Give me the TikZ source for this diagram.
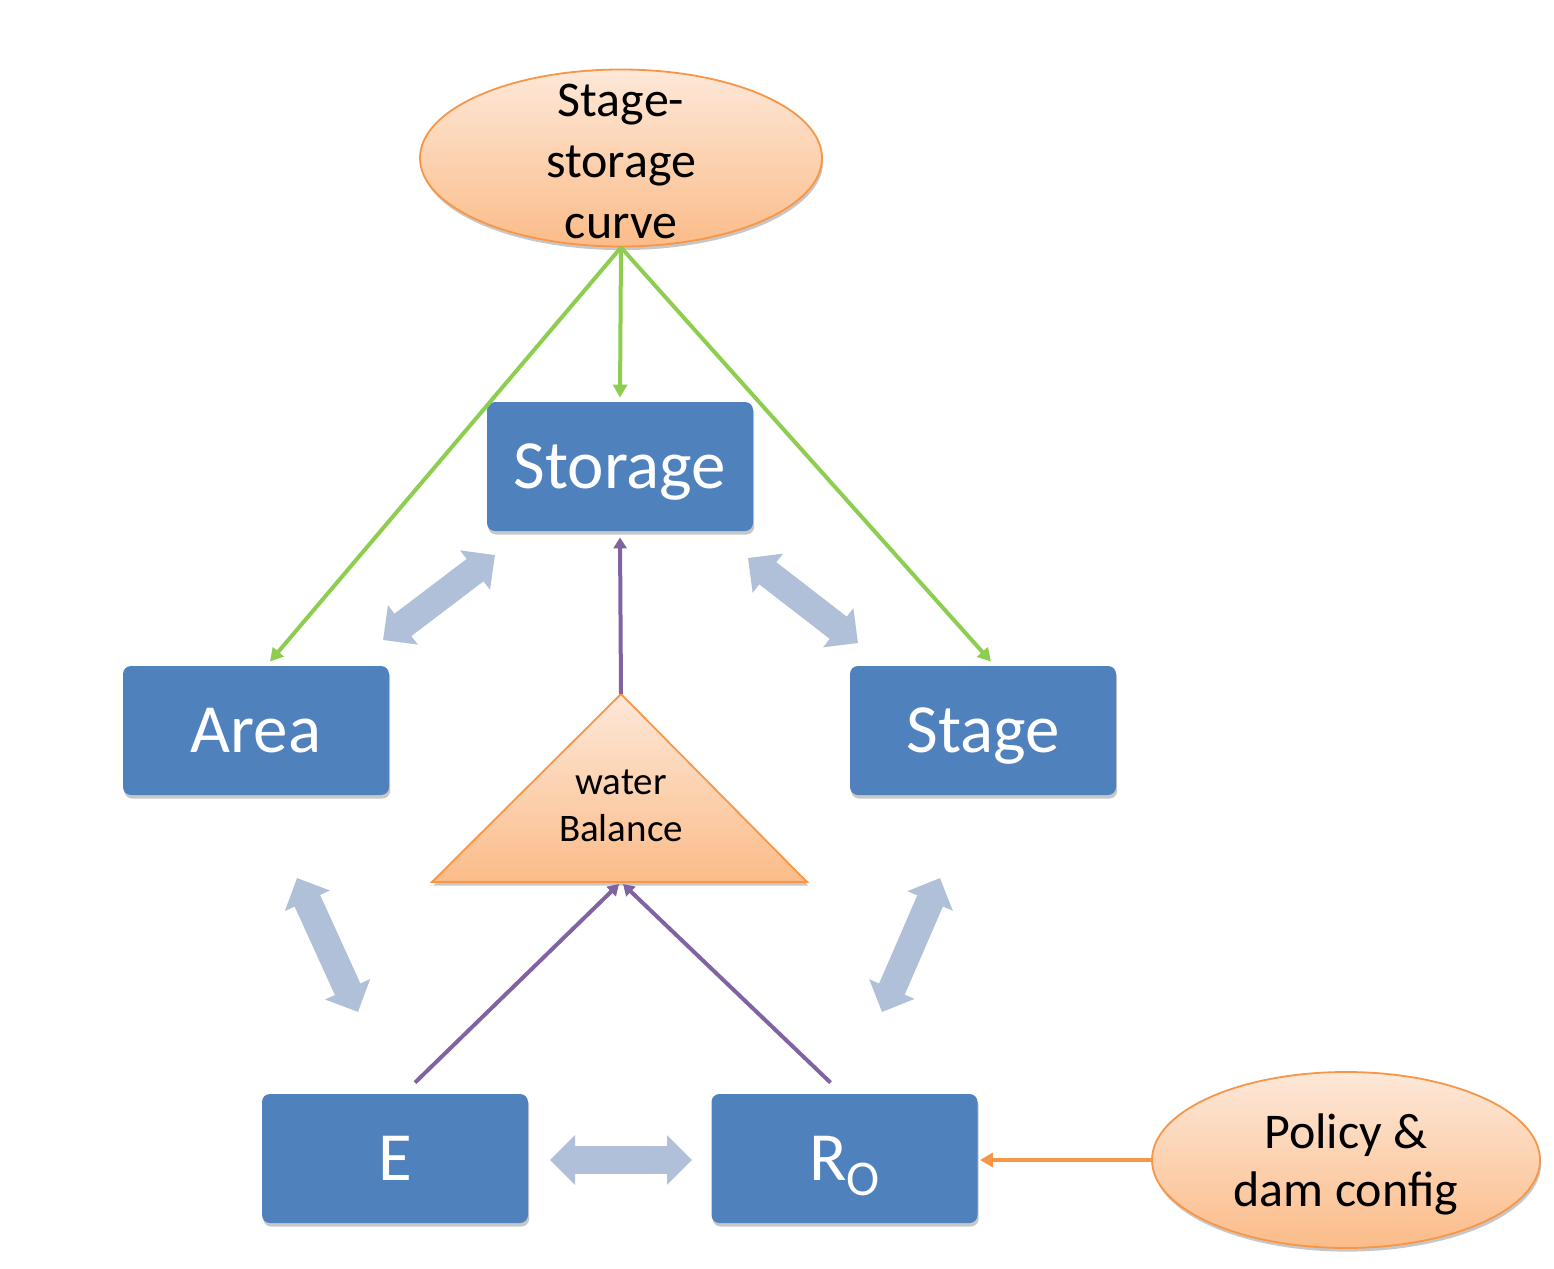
\documentclass[tikz,border=0pt]{standalone}
\usepackage{fontspec}
\setmainfont{Carlito}
\usetikzlibrary{arrows.meta,shapes.geometric,shadows,calc}
\definecolor{boxblue}{HTML}{4F81BD}
\definecolor{peachtop}{HTML}{FDE8D8}
\definecolor{peachbot}{HTML}{FBBC89}
\definecolor{peachline}{HTML}{F79646}
\definecolor{grnline}{HTML}{8DCD50}
\definecolor{purline}{HTML}{8064A2}
\definecolor{dblblue}{HTML}{B1C0D9}
\tikzset{
  shad/.style={drop shadow={shadow xshift=0.6pt,shadow yshift=-1.8pt,opacity=0.22,fill=black}},
  box/.style={rectangle,rounded corners=4pt,fill=boxblue,minimum width=133pt,minimum height=64.5pt,
    inner sep=0pt,text=white,font=\fontsize{34.5}{40}\selectfont,text height=21.8pt,text depth=0pt,shad},
  peach/.style={top color=peachtop,bottom color=peachbot,draw=peachline,line width=0.9pt},
  oval/.style={ellipse,peach,inner sep=0pt,shad},
  ovaltext/.style={align=center,inner sep=0pt},
  grn/.style={draw=grnline,line width=2pt,-{Triangle[length=6.5pt,width=7pt]}},
  pur/.style={draw=purline,line width=2pt,-{Triangle[length=5.5pt,width=6.5pt]}},
  org/.style={draw=peachline,line width=2pt,-{Triangle[length=6.5pt,width=7pt]}},
  dbl/.style={draw=dblblue,line width=14pt,{Triangle[length=12.5pt,width=24pt]}-{Triangle[length=12.5pt,width=24pt]}},
}
\begin{document}
\begin{tikzpicture}[x=0.5pt,y=-0.5pt]
\useasboundingbox (0,0) rectangle (1554,1269);

% ovals
\node[oval,minimum width=201pt,minimum height=88.5pt] (ss) at (621,158) {};
\node[ovaltext,font=\fontsize{25}{30.5}\selectfont] (sstext) at (621,161) {Stage-\\storage\\curve};
\node[oval,minimum width=194pt,minimum height=88pt] (pol) at (1346,1160) {};
\node[ovaltext,font=\fontsize{25}{29}\selectfont] (poltext) at (1346,1164) {Policy \&\\dam config};

% boxes
\node[box] (storage) at (620,466.5) {Storage};
\node[box] (area) at (256,730.5) {Area};
\node[box] (stage) at (983,730.5) {Stage};
\node[box] (E) at (395,1158.5) {E};
\node[box] (ro) at (844.5,1158.5) {R\raisebox{-7.5pt}{\fontsize{25}{25}\selectfont O}};

% water balance triangle
\coordinate (wbA) at (621,694);
\coordinate (wbB) at (621,882);
\path[peach,shad] (wbA) -- (807,882) -- (432,882) -- cycle;
\node[align=center,font=\fontsize{19.5}{23.5}\selectfont] (wb) at (621,806) {water\\Balance};

% green connectors
\draw[grn] (ss.south) -- ([xshift=7pt,yshift=2pt]area.north);
\draw[grn] (ss.south) -- ([yshift=2pt]storage.north);
\draw[grn] (ss.south) -- ([xshift=4pt,yshift=2pt]stage.north);

% purple connectors
\draw[pur] (wbA) -- ([yshift=-3pt]storage.south);
\draw[pur] ([xshift=10pt,yshift=5.5pt]E.north) -- ([xshift=-1pt,yshift=-1pt]wbB);
\draw[pur] ([xshift=-7pt,yshift=5.5pt]ro.north) -- ([xshift=1pt,yshift=-1pt]wbB);

% orange connector
\draw[org] (pol.west) -- ([xshift=1pt]ro.east |- pol.west);

% double block arrows
\coordinate (d1a) at (383,640); \coordinate (d1b) at (495,555);
\coordinate (d2a) at (748,558); \coordinate (d2b) at (858,643);
\coordinate (d3a) at (297,878); \coordinate (d3b) at (358,1012);
\coordinate (d4a) at (940,878); \coordinate (d4b) at (882,1012);
\coordinate (d5a) at (550,1160); \coordinate (d5b) at (692,1160);
\draw[dbl] (d1a) -- (d1b);
\draw[dbl] (d2a) -- (d2b);
\draw[dbl] (d3a) -- (d3b);
\draw[dbl] (d4a) -- (d4b);
\draw[dbl] (d5a) -- (d5b);
\end{tikzpicture}
\end{document}
